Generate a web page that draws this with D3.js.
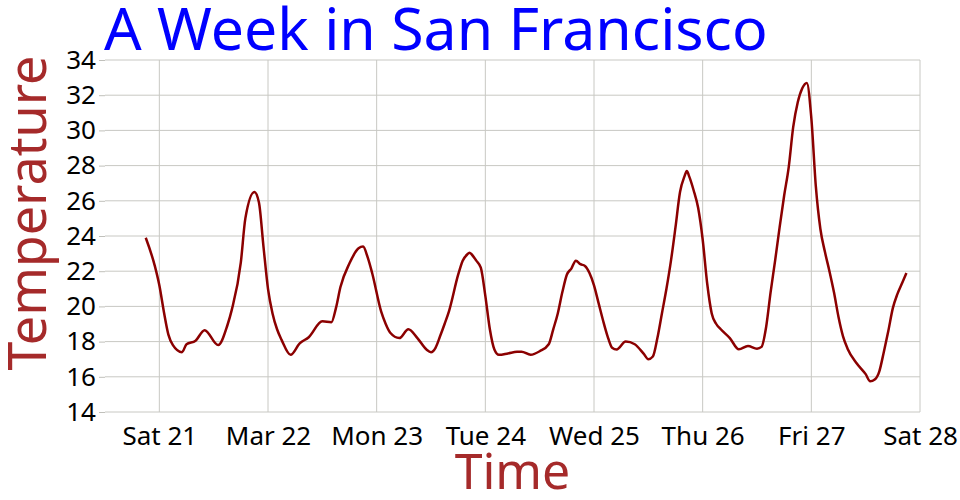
<!DOCTYPE html>
<html>

<head>
  <meta charset="utf-8">
  <title>A Week in San Francisco</title>
  <style>
    body {
      margin: 0;
    }

    svg text {
      font-family: "Noto Sans", "Open Sans", sans-serif;
    }

    .axis text {
      font-size: 26px;
      fill: black;
    }

    .axis path,
    .axis line {
      stroke: #c0c0bb;
    }

    .grid line {
      stroke: #c8c8c3;
      stroke-width: 1;
    }
  </style>
</head>

<body>
  <script src="https://cdn.jsdelivr.net/npm/d3@7"></script>
  <script>
    // hours after Sat 21 Mar 2015 00:00
    var hours = [-3, -1, 0, 1, 2, 3, 5, 6, 8, 10, 13, 15, 16, 18, 19, 21, 22, 23, 24, 25,
      26, 27, 29, 31, 33, 36, 38, 39, 40, 42, 44, 45, 46, 47, 49, 50, 51, 53, 55, 57,
      59, 60, 61, 62, 63, 64, 66, 67, 68, 68.5, 69, 70, 71, 72, 73, 74, 75, 77, 79, 80, 82,
      84, 86, 87, 88, 89, 90, 91, 92, 93, 94, 95, 96, 97, 98, 99, 100, 101, 103, 105, 107,
      108, 109, 110, 111, 112, 113, 114, 115, 116, 116.5, 117, 118, 119, 120, 121, 122, 123, 124, 126, 128, 130,
      132, 133, 134, 135, 136, 137, 138, 139, 140, 141, 142, 143, 144, 145, 146, 147, 148, 149, 150, 151,
      152, 154, 156, 157, 158, 159, 160, 161, 162, 163, 164, 165];
    var temps = [23.9, 22.3, 21.2, 19.7, 18.4, 17.8, 17.4, 17.85, 18.05, 18.65, 17.8, 18.9, 19.8, 22.5, 25.0, 26.5, 25.9, 23.4, 21.0, 19.6,
      18.7, 18.1, 17.25, 17.9, 18.25, 19.15, 19.1, 19.9, 21.1, 22.45, 23.3, 23.4, 22.8, 21.9, 19.7, 19.0, 18.5, 18.2, 18.7, 18.2,
      17.55, 17.4, 17.65, 18.3, 19.0, 19.75, 21.8, 22.6, 22.95, 23.05, 22.95, 22.6, 22.2, 20.6, 18.7, 17.55, 17.25, 17.33, 17.42, 17.43, 17.25,
      17.45, 17.85, 18.7, 19.6, 20.8, 21.8, 22.15, 22.6, 22.4, 22.3, 21.9, 21.2, 20.2, 19.2, 18.3, 17.65, 17.55, 18.0, 17.85, 17.3,
      17.0, 17.15, 18.2, 19.6, 21.0, 22.6, 24.5, 26.5, 27.4, 27.7, 27.4, 26.6, 25.6, 23.8, 21.3, 19.6, 19.0, 18.7, 18.2, 17.56, 17.75,
      17.6, 17.7, 18.8, 20.8, 22.6, 24.5, 26.3, 27.9, 30.2, 31.6, 32.4, 32.7, 30.7, 26.8, 24.4, 23.1, 22.0, 20.8, 19.4, 18.3,
      17.6, 16.77, 16.15, 15.75, 15.85, 16.3, 17.4, 18.6, 19.9, 20.7, 21.3, 21.9];
    var yTicks = [14, 16, 18, 20, 22, 24, 26, 28, 30, 32, 34];

    var start = new Date(2015, 2, 21, 0, 0);
    var data = hours.map(function (h, i) {
      return { time: new Date(+start + h * 3600000), temp: temps[i] };
    });

    var margin = { top: 60, right: 40, bottom: 88, left: 105 },
      width = 960 - margin.left - margin.right,
      height = 500 - margin.top - margin.bottom;

    var svg = d3.select("body").append("svg")
      .attr("width", 960)
      .attr("height", 500);

    var g = svg.append("g")
      .attr("transform", "translate(" + margin.left + "," + margin.top + ")");

    var x = d3.scaleTime()
      .domain([new Date(2015, 2, 20, 12), new Date(2015, 2, 28, 0)])
      .range([0, width]);
    var y = d3.scaleLinear()
      .domain([14, 34])
      .range([height, 0]);

    // grid lines
    g.append("g")
      .attr("class", "grid")
      .selectAll("line")
      .data(yTicks)
      .join("line")
      .attr("x1", 0)
      .attr("x2", width)
      .attr("y1", d => y(d))
      .attr("y2", d => y(d));
    g.append("g")
      .attr("class", "grid")
      .selectAll("line")
      .data(x.ticks(d3.timeDay))
      .join("line")
      .attr("x1", d => x(d))
      .attr("x2", d => x(d))
      .attr("y1", 0)
      .attr("y2", height);

    var xAxis = d3.axisBottom(x)
      .ticks(d3.timeDay)
      .tickSize(0)
      .tickPadding(15);
    g.append("g")
      .attr("class", "axis")
      .attr("transform", "translate(0," + height + ")")
      .call(xAxis)
      .call(s => s.select(".domain").remove());

    var yAxis = d3.axisLeft(y)
      .tickValues(yTicks)
      .tickSize(6)
      .tickPadding(3);
    g.append("g")
      .attr("class", "axis")
      .call(yAxis)
      .call(s => s.select(".domain").remove());

    var line = d3.line()
      .x(d => x(d.time))
      .y(d => y(d.temp))
      .curve(d3.curveMonotoneX);

    g.append("path")
      .datum(data)
      .attr("fill", "none")
      .attr("stroke", "#8b0000")
      .attr("stroke-width", 2.5)
      .attr("d", line);

    svg.append("text")
      .attr("x", 104)
      .attr("y", 50)
      .attr("fill", "blue")
      .style("font-size", "59px")
      .text("A Week in San Francisco");

    svg.append("text")
      .attr("text-anchor", "middle")
      .attr("x", margin.left + width / 2)
      .attr("y", 489)
      .attr("fill", "brown")
      .style("font-size", "50px")
      .text("Time");

    svg.append("text")
      .attr("text-anchor", "middle")
      .attr("transform", "translate(46,213) rotate(-90)")
      .attr("fill", "brown")
      .style("font-size", "52px")
      .text("Temperature");
  </script>
</body>

</html>
